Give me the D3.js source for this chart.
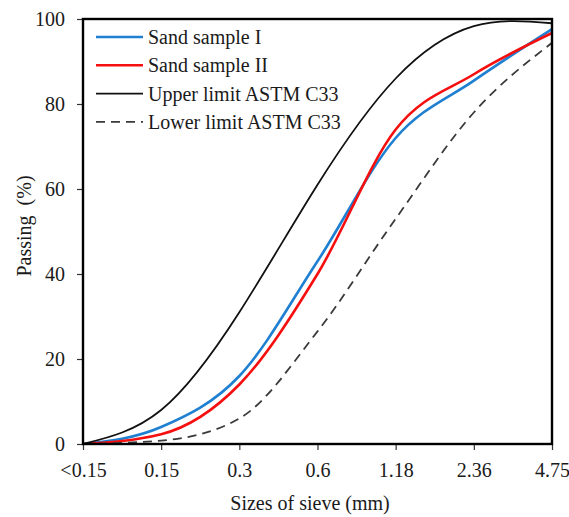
<!DOCTYPE html>
<html>
<head>
<meta charset="utf-8">
<script src="https://cdn.jsdelivr.net/npm/d3@7"></script>
<style>
  html, body { margin: 0; padding: 0; background: #fff; }
  svg text { font-family: "Liberation Serif", "Times New Roman", serif; fill: #1a1a1a; }
</style>
</head>
<body>
<div id="chart"></div>
<script>
// sieve sizes (mm) used as categories on the x axis
const sieveSizes = ['<0.15', '0.15', '0.3', '0.6', '1.18', '2.36', '4.75'];

// percent passing
const sandSample1 = [0, 4, 16, 43, 72, 85.5, 97.6];
const sandSample2 = [0, 2.3, 14, 40, 74, 87, 96.7];
const upperLimit = [0, 8, 31, 61, 86, 98.3, 99];
const lowerLimit = [0, 0.8, 6, 26.5, 53, 78, 94.4];

const yTicks = [0, 20, 40, 60, 80, 100];

const seriesNames = ['Sand sample I', 'Sand sample II', 'Upper limit ASTM C33', 'Lower limit ASTM C33'];
const seriesValues = [sandSample1, sandSample2, upperLimit, lowerLimit];

const width = 569, height = 517;
const margin = { left: 83, right: 17, top: 19, bottom: 73 };

const styles = [
  { color: '#1f7fd0', width: 2.6, dash: null, curve: d3.curveMonotoneX },
  { color: '#f50f0f', width: 2.6, dash: null, curve: d3.curveMonotoneX },
  { color: '#111111', width: 1.8, dash: null, curve: d3.curveNatural },
  { color: '#3a3a3a', width: 1.8, dash: '9,6', curve: d3.curveMonotoneX }
];

const svg = d3.select('#chart').append('svg')
  .attr('width', width)
  .attr('height', height);

const x = d3.scalePoint()
  .domain(sieveSizes)
  .range([margin.left, width - margin.right]);

const y = d3.scaleLinear()
  .domain([0, 100])
  .range([height - margin.bottom, margin.top]);

// axes
const xAxis = svg.append('g')
  .attr('transform', `translate(0,${height - margin.bottom})`)
  .call(d3.axisBottom(x).tickSize(6).tickPadding(13));

const yAxis = svg.append('g')
  .attr('transform', `translate(${margin.left},0)`)
  .call(d3.axisLeft(y).tickValues(yTicks).tickSize(6).tickPadding(12));

[xAxis, yAxis].forEach(g => {
  g.attr('font-family', '"Liberation Serif", serif').attr('font-size', 20);
  g.select('.domain').remove();
  g.selectAll('.tick line').attr('stroke', '#333').attr('stroke-width', 1.2);
  g.selectAll('.tick text')
    .style('font-size', '20px')
    .style('font-family', '"Liberation Serif", serif')
    .attr('fill', '#1a1a1a');
});

// keep the curves inside the frame
svg.append('clipPath').attr('id', 'plot-clip')
  .append('rect')
  .attr('x', margin.left)
  .attr('y', margin.top)
  .attr('width', width - margin.left - margin.right)
  .attr('height', height - margin.top - margin.bottom);

// smoothed curves
seriesValues.forEach((vals, i) => {
  const line = d3.line()
    .x((d, j) => x(sieveSizes[j]))
    .y(d => y(d))
    .curve(styles[i].curve);

  svg.append('path')
    .datum(vals)
    .attr('d', line)
    .attr('clip-path', 'url(#plot-clip)')
    .attr('fill', 'none')
    .attr('stroke', styles[i].color)
    .attr('stroke-width', styles[i].width)
    .attr('stroke-dasharray', styles[i].dash);
});

// plot frame
svg.append('rect')
  .attr('x', margin.left)
  .attr('y', margin.top)
  .attr('width', width - margin.left - margin.right)
  .attr('height', height - margin.top - margin.bottom)
  .attr('fill', 'none')
  .attr('stroke', '#000')
  .attr('stroke-width', 2.4);

// legend
const legend = svg.append('g');
seriesNames.forEach((name, i) => {
  const ly = 37 + i * 28.3;
  legend.append('line')
    .attr('x1', 96).attr('x2', 143)
    .attr('y1', ly).attr('y2', ly)
    .attr('stroke', styles[i].color)
    .attr('stroke-width', styles[i].width)
    .attr('stroke-dasharray', styles[i].dash);
  legend.append('text')
    .attr('x', 148)
    .attr('y', ly + 7)
    .style('font-size', '20px')
    .text(name);
});

// axis titles
svg.append('text')
  .attr('x', 310)
  .attr('y', 510)
  .attr('text-anchor', 'middle')
  .style('font-size', '20px')
  .text('Sizes of sieve (mm)');

svg.append('text')
  .attr('transform', 'translate(31,226) rotate(-90)')
  .attr('text-anchor', 'middle')
  .style('font-size', '20px')
  .style('white-space', 'pre')
  .text('Passing  (%)');
</script>
</body>
</html>
